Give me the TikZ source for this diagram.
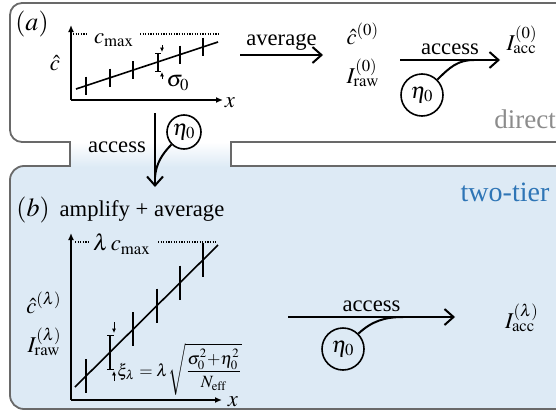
\documentclass[tikz,border=0pt]{standalone}
\usepackage{amsmath}
\usepackage{mathptmx}
\usepackage[no-math]{fontspec}
\newfontfamily\timesfont{Liberation Serif}
\usetikzlibrary{arrows.meta,calc,positioning}
\definecolor{tierblue}{RGB}{221,234,245}
\definecolor{tiertext}{RGB}{46,117,182}
\definecolor{framegray}{RGB}{105,105,105}
\definecolor{directgray}{RGB}{140,140,140}

\begin{document}
\begin{tikzpicture}[x=0.5pt,y=-0.5pt,font=\timesfont\fontsize{11.3}{13.5}\selectfont,
    frame/.style={draw=framegray,line width=0.9pt},
    flow/.style={-{Straight Barb[length=4.5pt,width=8pt]},line width=1pt},
    axis/.style={-{Latex[length=3.5pt,width=3pt]},line width=0.8pt},
    errbar/.style={line width=0.8pt},
    tinyarr/.style={-{Latex[length=2.2pt,width=2pt]},line width=0.4pt},
    guide/.style={line width=0.6pt,dash pattern=on 0.6pt off 0.7pt},
    noise/.style={draw,circle,line width=0.8pt,minimum size=21pt,inner sep=0pt},
    feed/.style={line width=1pt},
    tight/.style={inner sep=1pt}]
    \useasboundingbox (0,0) rectangle (556,412);
    % panels
    \fill[tierblue,rounded corners=6pt] (10,166) rectangle (600,409);
    \shade[top color=white,bottom color=tierblue] (70,142) rectangle (231,167);
    \draw[frame,rounded corners=6pt] (60,142) -- (10,142) -- (10,3) -- (600,3);
    \draw[frame,rounded corners=7pt] (60,166) -- (10,166) -- (10,409) -- (600,409);
    \draw[frame] (40,142) -- (70,142) -- (70,166) -- (40,166);
    \draw[frame] (600,142) -- (231,142) -- (231,166) -- (600,166);
    \node[directgray,font=\timesfont\fontsize{13.5}{16}\selectfont] (direct) at (525,119) {direct};
    \node[tiertext,font=\timesfont\fontsize{14}{16}\selectfont] (twotier) at (505,192) {two-tier};

    % (a) direct
    \node[font=\fontsize{13}{15}\selectfont] (tagA) at (32,24) {$(a)$};
    \draw[axis] (71,100) -- (71,25);
    \draw[axis] (71,100) -- (223,100);
    \node (xA) at (230,103) {$x$};
    \node (chatA) at (55,63) {$\hat c$};
    \node (cmaxA) at (114,40) {$c_{\max}$};
    \draw[guide] (73,34) -- (88,34);
    \draw[guide] (140,34) -- (220,34);
    \draw[errbar] (76,89) -- (218,42);
    \foreach \px in {86,110,133,158,180,203}
      \draw[errbar] (\px,{89-(\px-76)*0.331-9}) -- (\px,{89-(\px-76)*0.331+9});
    \draw[line width=0.4pt] (155,53) -- (161,53) (155,71) -- (161,71);
    \draw[tinyarr] (162,45) -- (162,52);
    \draw[tinyarr] (162,79) -- (162,72);
    \node (sigA) at (178,83) {$\sigma_0$};

    \coordinate (avgS) at (240,55);
    \coordinate (avgE) at (323,55);
    \draw[flow] (avgS) -- node[above,inner sep=2pt] (avgLbl) {average} (avgE);
    \node[tight,align=left] (est0) at (363,55) {$\hat c^{(0)}$\\[6pt]$I^{(0)}_{\mathrm{raw}}$};
    \coordinate (accS) at (400,60);
    \coordinate (accE) at (500,60);
    \coordinate (accJ) at (474,60);
    \draw[flow] (accS) -- node[above,inner sep=2pt] (accLbl) {access} (accE);
    \node[noise] (etaA) at (422,95) {$\eta_0$};
    \draw[feed] (etaA.north east) .. controls (450,67) and (458,60) .. (accJ);
    \node (Iacc0) at (522,40) {$I^{(0)}_{\mathrm{acc}}$};

    % neck
    \coordinate (dnS) at (155,113);
    \coordinate (dnE) at (155,187);
    \coordinate (dnJ) at (155,177);
    \draw[flow] (dnS) -- (dnE);
    \node (dnLbl) at (117,147) {access};
    \node[noise,minimum size=17pt] (etaN) at (184,132) {$\eta_0$};
    \draw[feed] (etaN.south west) .. controls (162,154) and (156,164) .. (dnJ);

    % (b) two-tier
    \node[font=\fontsize{13}{15}\selectfont] (tagB) at (33,210) {$(b)$};
    \node (ampLbl) at (142,211) {amplify + average};
    \draw[axis] (71,400) -- (71,233);
    \draw[axis] (71,400) -- (222,400);
    \node (xB) at (233,402) {$x$};
    \node (lcmax) at (122,244) {$\lambda\, c_{\max}$};
    \draw[guide] (75,242) -- (89,242);
    \draw[guide] (158,242) -- (217,242);
    \draw[errbar] (75,387) -- (218,245);
    \foreach \px in {86,110,133,157,180,203}
      \draw[errbar] (\px,{387-(\px-75)*0.993-17}) -- (\px,{387-(\px-75)*0.993+17});
    \draw[line width=0.4pt] (107,335) -- (114,335) (107,369) -- (114,369);
    \draw[tinyarr] (114,322) -- (114,333);
    \draw[tinyarr] (114,381) -- (114,371);
    \node[tight,font=\fontsize{8.6}{10}\selectfont,anchor=west] (xiB) at (115,369)
      {$\thickmuskip=4mu\xi_\lambda = \lambda\sqrt{\dfrac{\sigma_0^2{+}\eta_0^2}{N_{\mathrm{eff}}}}$};
    \node[tight,align=right] (estB) at (44,324) {$\hat c^{(\lambda)}$\\[6pt]$I^{(\lambda)}_{\mathrm{raw}}$};

    \coordinate (accBS) at (288,317);
    \coordinate (accBE) at (455,317);
    \coordinate (accBJ) at (403,317);
    \draw[flow] (accBS) -- node[above,inner sep=2pt] (accBLbl) {access} (accBE);
    \node[noise] (etaB) at (343,349) {$\eta_0$};
    \draw[feed] (etaB.north east) .. controls (372,321) and (385,317) .. (accBJ);
    \node (IaccB) at (522,318) {$I^{(\lambda)}_{\mathrm{acc}}$};
\end{tikzpicture}
\end{document}
